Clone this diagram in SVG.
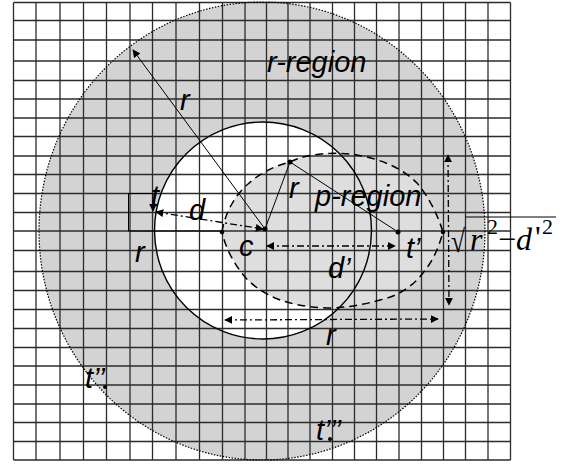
<svg xmlns="http://www.w3.org/2000/svg" width="574" height="466" viewBox="0 0 574 466">
<defs>
<marker id="ah" viewBox="0 0 10 10" refX="9" refY="5" markerWidth="8" markerHeight="8" markerUnits="userSpaceOnUse" orient="auto-start-reverse">
<path d="M0,0 L10,5 L0,10 Z" fill="#000"/>
</marker>
<style>
.grid line{stroke:#2b2b2b;stroke-width:1.3}
.lbl{font-family:"Liberation Sans",Arial,sans-serif;font-style:italic;font-size:29px;fill:#000}
.ser{font-family:"Liberation Serif","Times New Roman",serif;font-size:32px;fill:#000}
.sup{font-family:"Liberation Serif","Times New Roman",serif;font-size:22px;fill:#000}
.solid{stroke:#000;stroke-width:1;fill:none}
.dd{stroke:#000;stroke-width:1.3;fill:none;stroke-dasharray:7 3 2 3}
.dot{fill:#000}
</style>
</defs>
<rect width="574" height="466" fill="#fff"/>
<g id="r-region">
<ellipse cx="262" cy="231" rx="223" ry="229" fill="#d3d3d3" stroke="none"/>
</g>
<g id="inner-circle-fill">
<circle cx="263" cy="230.5" r="108.5" fill="#fff"/>
</g>
<g id="p-region-fill">
<path d="M222,232 C225,212 236,194 248,184 C260,173 274,166 290,162 C305,154 330,152 350,154 C375,157 400,166 417,183 C428,196 437,213 443,232 C438,250 432,262 423,273 C412,287 398,296 380,300 C362,305 345,308 327,308 C305,307 290,304 275,298 C262,292 252,285 245,277 C235,265 226,250 222,232 Z" fill="#dedede"/>
</g>
<g class="grid" id="grid">
<line x1="13.5" y1="2.5" x2="13.5" y2="460"/><line x1="36" y1="2.5" x2="36" y2="460"/><line x1="60" y1="2.5" x2="60" y2="460"/><line x1="83.5" y1="2.5" x2="83.5" y2="460"/><line x1="106.5" y1="2.5" x2="106.5" y2="460"/><line x1="130" y1="2.5" x2="130" y2="460"/><line x1="152.5" y1="2.5" x2="152.5" y2="460"/><line x1="176" y1="2.5" x2="176" y2="460"/><line x1="199.5" y1="2.5" x2="199.5" y2="460"/><line x1="222.5" y1="2.5" x2="222.5" y2="460"/><line x1="245" y1="2.5" x2="245" y2="460"/><line x1="266.5" y1="2.5" x2="266.5" y2="460"/><line x1="288" y1="2.5" x2="288" y2="460"/><line x1="310" y1="2.5" x2="310" y2="460"/><line x1="332.5" y1="2.5" x2="332.5" y2="460"/><line x1="354.5" y1="2.5" x2="354.5" y2="460"/><line x1="376.5" y1="2.5" x2="376.5" y2="460"/><line x1="399" y1="2.5" x2="399" y2="460"/><line x1="421.5" y1="2.5" x2="421.5" y2="460"/><line x1="443.5" y1="2.5" x2="443.5" y2="460"/><line x1="465.5" y1="2.5" x2="465.5" y2="460"/><line x1="488" y1="2.5" x2="488" y2="460"/><line x1="510.5" y1="2.5" x2="510.5" y2="460"/>
<line x1="13.5" y1="2.5" x2="510.5" y2="2.5"/><line x1="13.5" y1="20.5" x2="510.5" y2="20.5"/><line x1="13.5" y1="40" x2="510.5" y2="40"/><line x1="13.5" y1="61" x2="510.5" y2="61"/><line x1="13.5" y1="80.5" x2="510.5" y2="80.5"/><line x1="13.5" y1="99" x2="510.5" y2="99"/><line x1="13.5" y1="118" x2="510.5" y2="118"/><line x1="13.5" y1="136.5" x2="510.5" y2="136.5"/><line x1="13.5" y1="156" x2="510.5" y2="156"/><line x1="13.5" y1="174.5" x2="510.5" y2="174.5"/><line x1="13.5" y1="193.5" x2="510.5" y2="193.5"/><line x1="13.5" y1="212.5" x2="510.5" y2="212.5"/><line x1="13.5" y1="231" x2="510.5" y2="231"/><line x1="13.5" y1="250.5" x2="510.5" y2="250.5"/><line x1="13.5" y1="271.5" x2="510.5" y2="271.5"/><line x1="13.5" y1="290.5" x2="510.5" y2="290.5"/><line x1="13.5" y1="309.5" x2="510.5" y2="309.5"/><line x1="13.5" y1="328.5" x2="510.5" y2="328.5"/><line x1="13.5" y1="347.5" x2="510.5" y2="347.5"/><line x1="13.5" y1="366" x2="510.5" y2="366"/><line x1="13.5" y1="385" x2="510.5" y2="385"/><line x1="13.5" y1="404" x2="510.5" y2="404"/><line x1="13.5" y1="422.5" x2="510.5" y2="422.5"/><line x1="13.5" y1="441.5" x2="510.5" y2="441.5"/><line x1="13.5" y1="460" x2="510.5" y2="460"/>
</g>
<g id="outlines">
<ellipse cx="262" cy="231" rx="223" ry="229" fill="none" stroke="#000" stroke-width="1.2" stroke-dasharray="1.5 1.5"/>
<circle cx="263" cy="230.5" r="108.5" fill="none" stroke="#000" stroke-width="1.4"/>
<path d="M222,232 C225,212 236,194 248,184 C260,173 274,166 290,162 C305,154 330,152 350,154 C375,157 400,166 417,183 C428,196 437,213 443,232 C438,250 432,262 423,273 C412,287 398,296 380,300 C362,305 345,308 327,308 C305,307 290,304 275,298 C262,292 252,285 245,277 C235,265 226,250 222,232 Z" fill="none" stroke="#000" stroke-width="1.5" stroke-dasharray="8 5"/>
</g>
<g id="connectors">
<path class="solid" d="M153,193.5 L128.5,193.5 L128.5,231 L222,231" stroke-width="2"/>
<line class="solid" x1="153" y1="193" x2="153" y2="211" marker-end="url(#ah)"/>
<line class="solid" x1="265" y1="229" x2="133" y2="50" marker-end="url(#ah)"/>
<line class="solid" x1="265" y1="229" x2="290" y2="162"/>
<line class="solid" x1="290" y1="162" x2="398" y2="232"/>
<line class="dd" x1="156" y1="212" x2="263" y2="229" marker-start="url(#ah)" marker-end="url(#ah)"/>
<line class="dd" x1="267" y1="246" x2="395" y2="246" marker-start="url(#ah)" marker-end="url(#ah)"/>
<line class="dd" x1="448" y1="155" x2="449" y2="305" marker-start="url(#ah)" marker-end="url(#ah)"/>
<line class="dd" x1="225" y1="320" x2="438" y2="319" marker-start="url(#ah)" marker-end="url(#ah)"/>
</g>
<g id="points">
<circle class="dot" cx="265" cy="229" r="2.5"/>
<circle class="dot" cx="222" cy="232" r="2.3"/>
<circle class="dot" cx="290" cy="162" r="2.5"/>
<circle class="dot" cx="398" cy="232" r="2.5"/>
<circle class="dot" cx="443" cy="232" r="2.3"/>
<circle class="dot" cx="105" cy="387" r="2"/>
<circle class="dot" cx="330" cy="439" r="2"/>
</g>
<g id="labels">
<text class="lbl" x="267" y="72">r-region</text>
<text class="lbl" x="180" y="110">r</text>
<text class="lbl" x="289" y="198">r</text>
<text class="lbl" x="315" y="206">p-region</text>
<text class="lbl" x="151" y="206">t</text>
<text class="lbl" x="189" y="220">d</text>
<text class="lbl" x="239" y="256">c</text>
<text class="lbl" x="135" y="262">r</text>
<text class="lbl" x="406" y="258">t’</text>
<text class="lbl" x="328" y="278">d’</text>
<text class="lbl" x="326" y="345">r</text>
<text class="lbl" x="85" y="388">t’’</text>
<text class="lbl" x="316" y="440">t’’’</text>
<text class="ser" transform="translate(451,252) scale(0.8,1)" font-size="40">√</text>
<text class="ser" x="470" y="250" font-style="italic">r</text>
<text class="sup" x="487" y="234">2</text>
<text class="ser" x="498" y="250">−</text>
<text class="ser" x="516" y="250" font-style="italic">d</text>
<text class="ser" x="535" y="248">'</text>
<text class="sup" x="542" y="234">2</text>
<line x1="466" y1="217" x2="556" y2="217" stroke="#000" stroke-width="1"/>
</g>
</svg>
